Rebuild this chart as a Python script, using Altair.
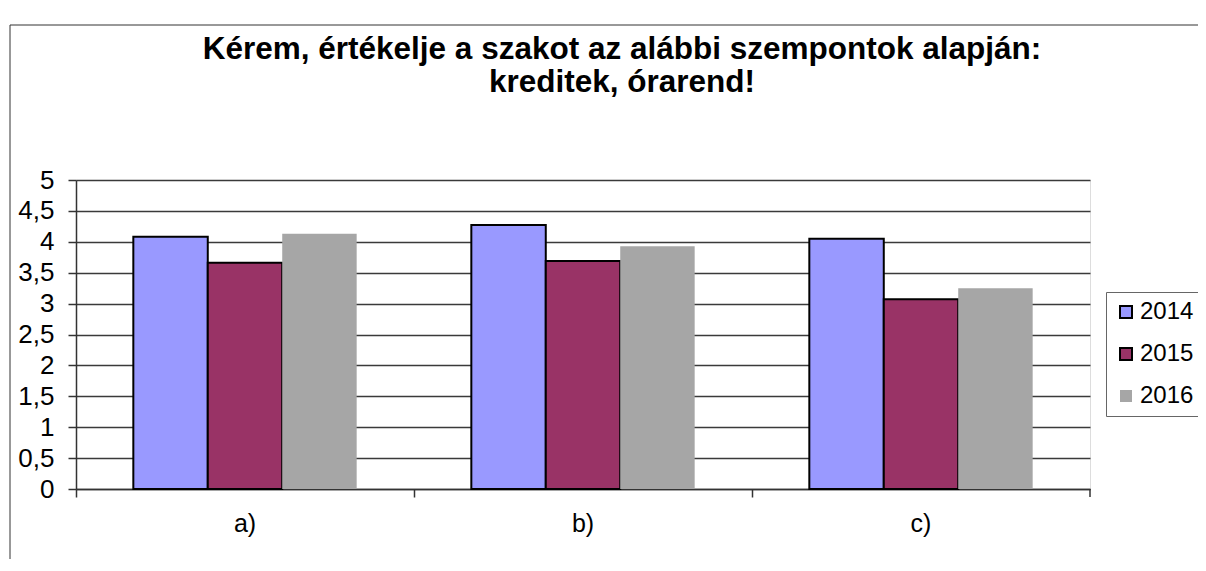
import altair as alt
import pandas as pd

categories = ["a)", "b)", "c)"]
years = ["2014", "2015", "2016"]
v2014 = [4.08, 4.27, 4.05]
v2015 = [3.66, 3.69, 3.07]
v2016 = [4.13, 3.93, 3.25]
y_ticks = [0, 0.5, 1, 1.5, 2, 2.5, 3, 3.5, 4, 4.5, 5]
fill_colors = ["#9999FF", "#993366", "#A6A6A6"]
stroke_colors = ["#000000", "#000000", "transparent"]

rows = []
for yr, vals in zip(years, [v2014, v2015, v2016]):
    for c, v in zip(categories, vals):
        rows.append({"cat": c, "year": yr, "value": v})
df = pd.DataFrame(rows)

W, H = 1014, 309
FONT = "Liberation Sans"

bars = alt.Chart(df).mark_bar(strokeWidth=2).encode(
    x=alt.X("cat:N", sort=categories, title=None,
            scale=alt.Scale(paddingInner=0, paddingOuter=0),
            axis=alt.Axis(bandPosition=0, labelAngle=0,
                          tickSize=8, labelPadding=14, labelFontSize=25,
                          labelFont=FONT, labelColor="#000", domainColor="#333",
                          tickColor="#333", domainWidth=1.5, tickWidth=1.5)),
    xOffset=alt.XOffset("year:N", sort=years,
                        scale=alt.Scale(paddingInner=0, paddingOuter=0.77)),
    y=alt.Y("value:Q", title=None,
            scale=alt.Scale(domain=[0, 5], nice=False),
            axis=alt.Axis(values=y_ticks, format=",.1~f", labelExpr="replace(datum.label, '.', ',')",
                          tickSize=8, labelPadding=14, labelFontSize=26,
                          labelFont=FONT, labelColor="#000", domainColor="#333",
                          tickColor="#333", domainWidth=1.5, tickWidth=1.5,
                          grid=True, gridColor="#3a3a3a", gridWidth=1.5)),
    fill=alt.Fill("year:N", sort=years, title=None,
                  scale=alt.Scale(domain=years, range=fill_colors),
                  legend=alt.Legend(orient="none", legendX=1030, legendY=112,
                                    labelFontSize=24, labelFont=FONT, labelColor="#000",
                                    symbolType="square", symbolSize=144,
                                    symbolStrokeWidth=2, rowPadding=18, padding=8,
                                    labelOffset=2, strokeColor="#666",
                                    fillColor="#FFFFFF")),
    stroke=alt.Stroke("year:N", sort=years, title=None,
                      scale=alt.Scale(domain=years, range=stroke_colors)),
)

frame_src = alt.Chart(pd.DataFrame({"k": [0]}))
end_tick = frame_src.mark_rule(color="#333", strokeWidth=1.5).encode(
    x=alt.value(W), y=alt.value(H), y2=alt.value(H + 8))
frame_left = frame_src.mark_rule(color="#333", strokeWidth=1).encode(
    x=alt.value(-66), y=alt.value(-155), y2=alt.value(400))
frame_top = frame_src.mark_rule(color="#333", strokeWidth=1).encode(
    x=alt.value(-66), x2=alt.value(1140), y=alt.value(-155))

chart = alt.layer(bars, end_tick, frame_left, frame_top).properties(
    width=W, height=H,
    title=alt.TitleParams(
        text=["Kérem, értékelje a szakot az alábbi szempontok alapján:", "kreditek, órarend!"],
        font=FONT, fontSize=31.5, fontWeight="bold", color="#000",
        anchor="middle", dx=39, offset=-74, lineHeight=33),
    autosize=alt.AutoSizeParams(type="none"),
    padding={"left": 68, "top": 172, "right": 108, "bottom": 70},
).configure_view(stroke="#8a8a8a", fill="#C0C0C0", strokeWidth=1.5
).configure(background="#FFFFFF")

chart.save("out.html", embed_options={"renderer": "svg", "actions": False})
